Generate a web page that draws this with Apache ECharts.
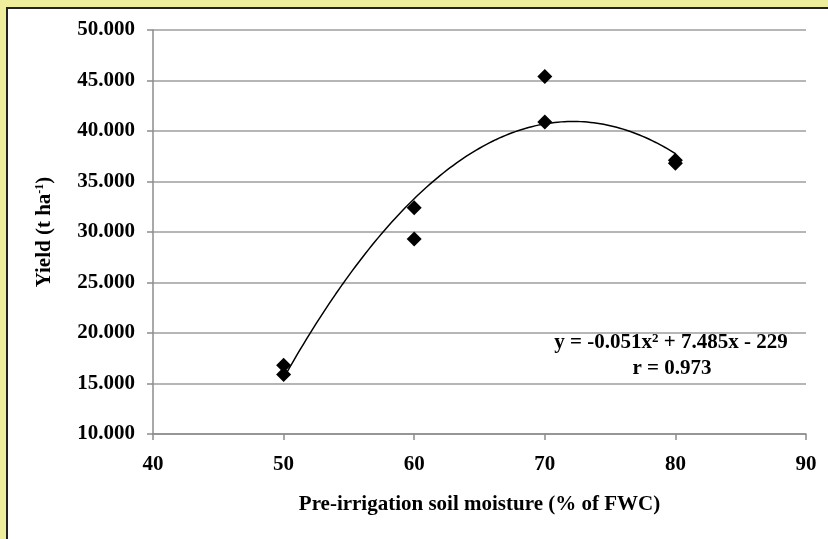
<!DOCTYPE html>
<html>
<head>
<meta charset="utf-8">
<script src="https://cdn.jsdelivr.net/npm/echarts@6/dist/echarts.min.js"></script>
<style>
html,body{margin:0;padding:0;width:828px;height:539px;overflow:hidden;background:#EEEE9C;}
#frame{position:absolute;left:6px;top:7px;width:822px;height:532px;box-sizing:border-box;border-left:2px solid #222;border-top:2px solid #222;background:#fff;}
#c{width:820px;height:530px;}
</style>
</head>
<body>
<div id="frame"><div id="c"></div></div>
<script>
// Data
const moisture = [50, 50, 60, 60, 70, 70, 80, 80];
const yieldVals = [16.8, 15.9, 32.4, 29.3, 45.4, 40.9, 37.1, 36.8];
const xTicks = [40, 50, 60, 70, 80, 90];
const yTicks = [10, 15, 20, 25, 30, 35, 40, 45, 50];
const equationText = '{a|y = -0.051x}{b|2}{a| + 7.485x - 229}';
const rText = 'r = 0.973';

// Least-squares quadratic fit of the data (trendline)
function quadFit(xs, ys) {
  let S = [0,0,0,0,0], T = [0,0,0];
  for (let i = 0; i < xs.length; i++) {
    let p = 1;
    for (let k = 0; k < 5; k++) { S[k] += p; if (k < 3) T[k] += p * ys[i]; p *= xs[i]; }
  }
  const A = [[S[0],S[1],S[2],T[0]],[S[1],S[2],S[3],T[1]],[S[2],S[3],S[4],T[2]]];
  for (let i = 0; i < 3; i++) {
    for (let j = i + 1; j < 3; j++) {
      const f = A[j][i] / A[i][i];
      for (let k = i; k < 4; k++) A[j][k] -= f * A[i][k];
    }
  }
  const c = [0,0,0];
  for (let i = 2; i >= 0; i--) {
    let s = A[i][3];
    for (let k = i + 1; k < 3; k++) s -= A[i][k] * c[k];
    c[i] = s / A[i][i];
  }
  return c; // c0 + c1 x + c2 x^2
}
const coef = quadFit(moisture, yieldVals);
const xMinFit = Math.min(...moisture), xMaxFit = Math.max(...moisture);
const trend = [];
for (let i = 0; i <= 120; i++) {
  const x = xMinFit + (xMaxFit - xMinFit) * i / 120;
  trend.push([x, coef[0] + coef[1] * x + coef[2] * x * x]);
}

const pts = moisture.map((x, i) => [x, yieldVals[i]]);
const FONT = 'Liberation Serif';
const FS = 21;
const chart = echarts.init(document.getElementById('c'), null, {renderer: 'canvas'});
chart.setOption({
  backgroundColor: '#ffffff',
  animation: false,
  grid: {left: 145, top: 21, right: 22, bottom: 105, containLabel: false},
  xAxis: {
    type: 'value', min: xTicks[0], max: xTicks[xTicks.length - 1], interval: 10,
    name: 'Pre-irrigation soil moisture (% of FWC)', nameLocation: 'middle', nameGap: 60,
    nameTextStyle: {fontFamily: FONT, fontWeight: 'bold', fontSize: FS, color: '#000'},
    axisLine: {show: true, lineStyle: {color: '#8c8c8c', width: 1.5}},
    axisTick: {show: true, length: 6, lineStyle: {color: '#8c8c8c', width: 1.5}},
    axisLabel: {margin: 20, fontFamily: FONT, fontWeight: 'bold', fontSize: FS, color: '#000'},
    splitLine: {show: false}
  },
  yAxis: {
    type: 'value', min: yTicks[0], max: yTicks[yTicks.length - 1], interval: 5,
    name: '{a|Yield (t ha}{b|-1}{a|)}', nameLocation: 'middle', nameGap: 98, nameRotate: 90,
    nameTextStyle: {
      rich: {
        a: {fontFamily: FONT, fontWeight: 'bold', fontSize: FS, color: '#000'},
        b: {fontFamily: FONT, fontWeight: 'bold', fontSize: 12, color: '#000', verticalAlign: 'top', lineHeight: 15}
      }
    },
    axisLine: {show: true, lineStyle: {color: '#8c8c8c', width: 1.5}},
    axisTick: {show: true, length: 6, lineStyle: {color: '#8c8c8c', width: 1.5}},
    axisLabel: {margin: 18, fontFamily: FONT, fontWeight: 'bold', fontSize: FS, color: '#000',
      formatter: v => v.toFixed(3)},
    splitLine: {show: true, lineStyle: {color: '#9e9e9e', width: 1.5}}
  },
  series: [
    {
      type: 'line', data: trend, showSymbol: false, smooth: false,
      lineStyle: {color: '#000', width: 1.5}, z: 2, silent: true
    },
    {
      type: 'scatter', data: pts, symbol: 'diamond', symbolSize: 15,
      itemStyle: {color: '#000', opacity: 1}, z: 3
    }
  ],
  graphic: [
    {type: 'text', x: 663, y: 334, style: {text: equationText, align: 'center', verticalAlign: 'middle',
      rich: {
        a: {fontFamily: FONT, fontWeight: 'bold', fontSize: FS, fill: '#000'},
        b: {fontFamily: FONT, fontWeight: 'bold', fontSize: 13, fill: '#000', verticalAlign: 'top', lineHeight: 16}
      }}},
    {type: 'text', x: 664, y: 360, style: {text: rText, align: 'center', verticalAlign: 'middle', fontFamily: FONT, fontWeight: 'bold', fontSize: FS, fill: '#000'}}
  ]
});
</script>
</body>
</html>
